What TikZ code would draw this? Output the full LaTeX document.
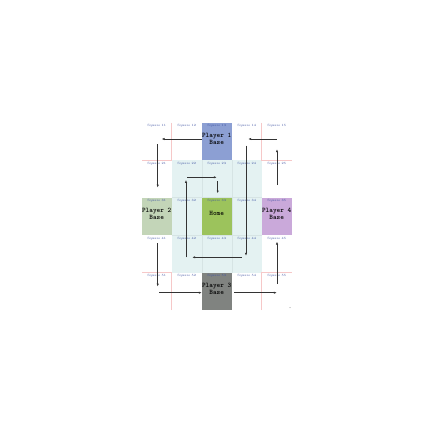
\documentclass[tikz,border=0pt]{standalone}
\usepackage{fontspec}
\newfontfamily\basettfont{lmmonolt10-bold.otf}
\usepackage{xcolor}
\usetikzlibrary{positioning}
\usetikzlibrary{arrows.meta}

\definecolor{cyanbg}{HTML}{E4F2F2}
\definecolor{cellline}{HTML}{D6E4E4}
\definecolor{pinkline}{HTML}{F6C8C8}
\definecolor{sqblue}{HTML}{3A4FA0}
\definecolor{ponecol}{HTML}{8C9FD3}
\definecolor{ptwocol}{HTML}{C3D5B8}
\definecolor{pthreecol}{HTML}{808380}
\definecolor{pfourcol}{HTML}{CAA9DA}
\definecolor{homecol}{HTML}{9CC35C}

\begin{document}
\begin{tikzpicture}[x=1bp,y=-1bp,
	cell/.style={minimum width=30bp,minimum height=37.5bp,inner sep=0pt,outer sep=0pt},
	sqlabel/.style={font=\fontsize{3.2}{4}\selectfont,text=sqblue,inner sep=0pt},
	basetext/.style={font=\basettfont\fontsize{7}{7}\selectfont,align=center,inner sep=0pt},
	move/.style={-{Latex[length=2.8bp,width=2.2bp]},line width=0.5bp,black!80}]
	\useasboundingbox (0,0) rectangle (432,432);
	\fill[cyanbg] (171.7,160) rectangle (261.7,272.5);
	\foreach \r in {1,...,5}
		\foreach \c in {1,...,5}
			\node[cell] (c\r\c) at ({156.7+30*(\c-1)},{141.25+37.5*(\r-1)}) {};
	\draw[cellline,line width=0.3bp] (c22.north east) -- (c42.south east);
	\draw[cellline,line width=0.3bp] (c23.north east) -- (c43.south east);
	\draw[cellline,line width=0.3bp] (c22.south west) -- (c24.south east);
	\draw[cellline,line width=0.3bp] (c32.south west) -- (c34.south east);
	\draw[pinkline,line width=0.5bp] (c11.north east) -- (c11.south east) -- (c11.south west);
	\draw[pinkline,line width=0.5bp] (c15.north west) -- (c15.south west) -- (c15.south east);
	\draw[pinkline,line width=0.5bp] (c51.south east) -- (c51.north east) -- (c51.north west);
	\draw[pinkline,line width=0.5bp] (c55.south west) -- (c55.north west) -- (c55.north east);
	\fill[ponecol] (c13.north west) rectangle (c13.south east);
	\fill[ptwocol] (c31.north west) rectangle (c31.south east);
	\fill[homecol] (c33.north west) rectangle (c33.south east);
	\fill[pfourcol] (c35.north west) rectangle (c35.south east);
	\fill[pthreecol] (c53.north west) rectangle (c53.south east);
	\foreach \r in {1,...,5}
		\foreach \c in {1,...,5}
			\node[sqlabel,below=2bp of c\r\c.north] (s\r\c) {Square \r\c};
	\node[basetext] (pone) at ([yshift=2bp]c13.center) {Player 1\\Base};
	\node[basetext] (ptwo) at ([yshift=2bp]c31.center) {Player 2\\Base};
	\node[basetext] (home) at ([yshift=3bp]c33.center) {Home};
	\node[basetext] (pfour) at ([yshift=2bp]c35.center) {Player 4\\Base};
	\node[basetext] (pthree) at ([yshift=2bp]c53.center) {Player 3\\Base};
	\coordinate (a1) at (201.7,139);   \coordinate (a2) at (161.7,139);
	\coordinate (b1) at (157.7,144);   \coordinate (b2) at (157.7,187.5);
	\coordinate (c1) at (157.7,243);   \coordinate (c2) at (157.7,286.5);
	\coordinate (d1) at (159.3,292.7); \coordinate (d2) at (201.7,292.7);
	\coordinate (e1) at (234.3,292.7); \coordinate (e2) at (276.7,292.7);
	\coordinate (f1) at (277,284);     \coordinate (f2) at (277,241.7);
	\coordinate (g1) at (277,185);     \coordinate (g2) at (277,149.3);
	\coordinate (h1) at (276.7,139);   \coordinate (h2) at (248.3,139);
	\coordinate (i1) at (246,145.7);   \coordinate (i2) at (246,255.7);
	\coordinate (j1) at (241.7,257.3); \coordinate (j2) at (192.3,257.3);
	\coordinate (k1) at (186,257.3);   \coordinate (k2) at (186,180);
	\coordinate (l1) at (187.3,177.3); \coordinate (l2) at (216.7,177.3);
	\coordinate (m1) at (217.7,181);   \coordinate (m2) at (217.7,193.3);
	\foreach \p in {a,b,c,d,e,f,g,h,i,j,k,l,m}
		\draw[move] (\p1) -- (\p2);
	\fill[gray] (290,307.5) circle (0.5);
\end{tikzpicture}
\end{document}
